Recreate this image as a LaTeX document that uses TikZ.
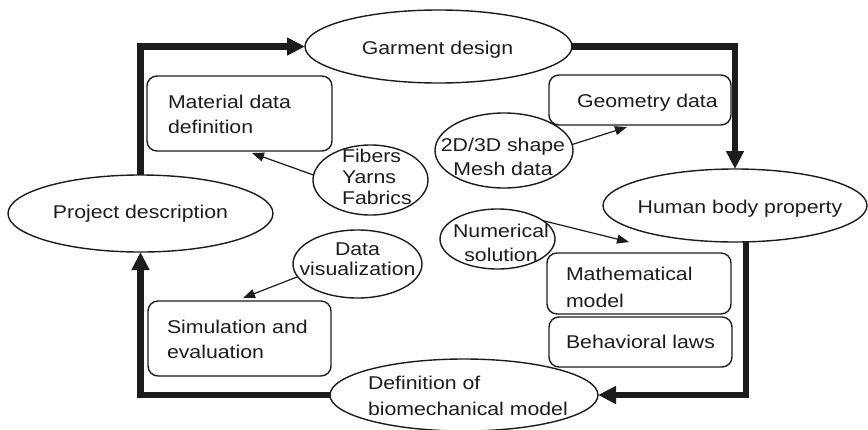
\documentclass[tikz,border=0pt]{standalone}
\usepackage{fontspec}
\setmainfont{Liberation Sans}[FakeStretch=1.15]
\usetikzlibrary{arrows.meta,calc,shapes.geometric}
\definecolor{ink}{HTML}{1C1C1C}

\begin{document}
\begin{tikzpicture}[x=1pt,y=-1pt,
  every node/.style={inner sep=0pt, outer sep=0pt},
  dims/.style 2 args={minimum width=#1pt, minimum height=#2pt},
  oval/.style={draw=ink, line width=1.4pt, ellipse},
  card/.style={draw=ink, line width=1.4pt, rectangle, rounded corners=10pt},
  lbl/.style={text=ink, font=\fontsize{18.5}{25}\selectfont},
  lblx/.style={text=ink, font=\fontsize{18.5}{#1}\selectfont},
  flow/.style={draw=ink, line width=6.5pt, -{Triangle[length=18pt,width=17pt]}},
  link/.style={draw=ink, line width=1.2pt, -{Triangle[length=12pt,width=9pt]}}
]
\useasboundingbox (0,0) rectangle (868,429);

% main cycle (multi-line labels are placed by the baseline of their last line)
\node[oval, dims={267}{73}] (garment) at (438.5,46.5) {};
\node[oval, dims={264}{73}] (human) at (735,205.5) {};
\node[oval, dims={268}{72}] (def) at (464,395) {};
\node[oval, dims={265}{77}] (project) at (140.5,213.5) {};

\node[lbl, anchor=base] (garment-t) at (437.5,54) {Garment design};
\node[lbl, anchor=base] (human-t) at (740,213) {Human body property};
\node[lblx=26, align=left, anchor=base west] (def-t) at (368,415) {Definition of\\biomechanical model};
\node[lbl, anchor=base] (project-t) at (140.5,218) {Project description};

% data boxes
\node[card, dims={185}{75}] (material) at (239.5,113.5) {};
\node[card, dims={182}{50}] (geometry) at (640,100) {};
\node[card, dims={184}{61}] (math) at (639,283.5) {};
\node[card, dims={183}{50}] (behav) at (640.5,342) {};
\node[card, dims={183}{75}] (simul) at (239.5,338.5) {};

\node[lbl, align=left, anchor=base west] (material-t) at (168,133) {Material data\\definition};
\node[lbl, anchor=base west] (geometry-t) at (577,107) {Geometry data};
\node[lblx=27, align=left, anchor=base west] (math-t) at (566,307) {Mathematical\\model};
\node[lbl, anchor=base west] (behav-t) at (566,348) {Behavioral laws};
\node[lbl, align=left, anchor=base west] (simul-t) at (167,358) {Simulation and\\evaluation};

% input ovals
\node[oval, dims={115}{70}] (fibers) at (370.5,180) {};
\node[oval, dims={138}{75}] (shape2d) at (504,150.5) {};
\node[oval, dims={115}{60}] (numerical) at (497.5,239) {};
\node[oval, dims={129}{68}] (datavis) at (357.5,264) {};

\node[lblx=21, align=left, anchor=base west] (fibers-t) at (342,204) {Fibers\\Yarns\\Fabrics};
\node[lblx=24, align=center, anchor=base] (shape2d-t) at (503,175) {2D/3D shape\\Mesh data};
\node[lblx=24, align=center, anchor=base] (numerical-t) at (501,261) {Numerical\\solution};
\node[lblx=20, align=center, anchor=base] (datavis-t) at (357.5,275) {Data\\visualization};

% thick process loop
\draw[flow] (project.north) |- (garment.west);
\draw[flow] (garment.east) -| (human.north);
\draw[flow] ([xshift=11pt]human.south) |- (def.east);
\draw[flow] (def.west) -| (project.south);

% thin data arrows
\draw[link] (fibers.175) -- ($(material.south)+(12.5,2)$);
\draw[link] (shape2d.5) -- ($(geometry.south)+(-13,2)$);
\draw[link] (numerical.22) -- ($(math.north)+(-10,-11)$);
\draw[link] (datavis.192) -- ($(simul.north)+(3.5,-3)$);
\end{tikzpicture}
\end{document}
